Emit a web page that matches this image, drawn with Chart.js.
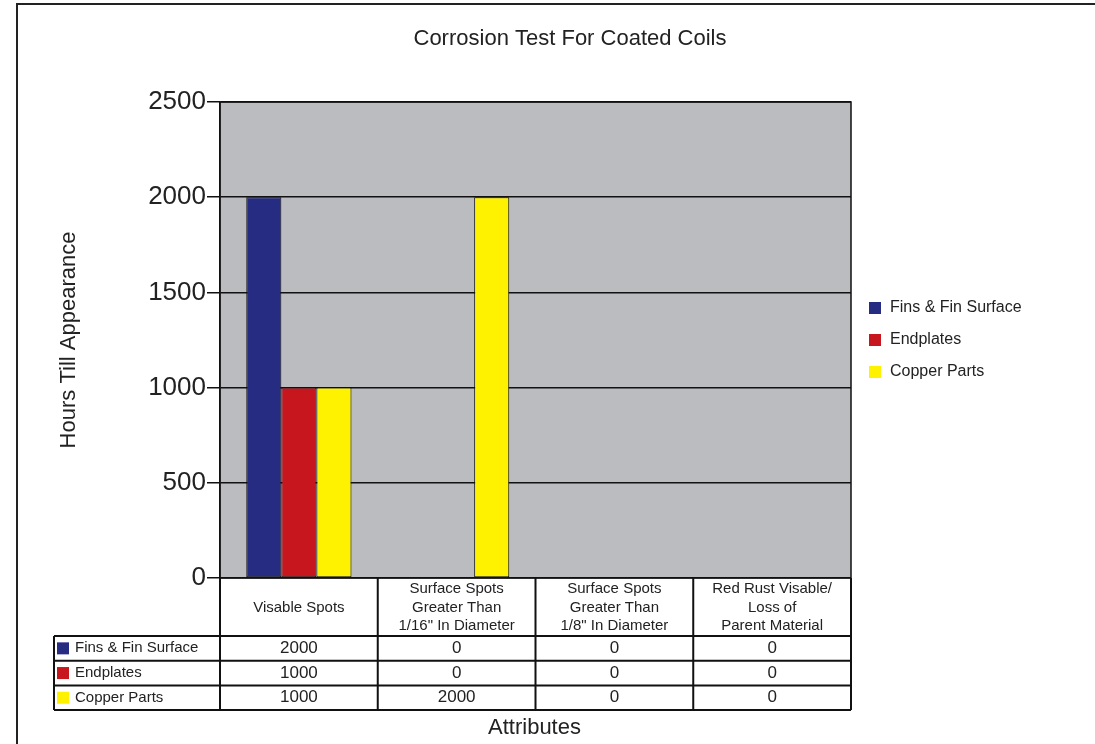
<!DOCTYPE html>
<html>
<head>
<meta charset="utf-8">
<script src="https://cdn.jsdelivr.net/npm/chart.js@4"></script>
<style>
  html, body { margin: 0; padding: 0; background: #fff; }
  #wrap { width: 1095px; height: 744px; }
</style>
</head>
<body>
<div id="wrap"><canvas id="corrosionChart" width="1095" height="744"></canvas></div>
<script>
// categories (table header labels) and series
const categories = [
    ['Visable Spots'],
    ['Surface Spots', 'Greater Than', '1/16" In Diameter'],
    ['Surface Spots', 'Greater Than', '1/8" In Diameter'],
    ['Red Rust Visable/', 'Loss of', 'Parent Material']
];
const seriesNames = ['Fins & Fin Surface', 'Endplates', 'Copper Parts'];
const finsValues = [2000, 0, 0, 0];
const endplatesValues = [1000, 0, 0, 0];
const copperValues = [1000, 2000, 0, 0];
const yTicks = [0, 500, 1000, 1500, 2000, 2500];

const FONT = '"Liberation Sans", Arial, sans-serif';
const colors = ['#262c82', '#c8161e', '#fff200'];

// frame, gray plot background, border, title, legend and the data table
const tablePlugin = {
    id: 'tablePlugin',
    beforeDraw(chart) {
        const ctx = chart.ctx;
        const a = chart.chartArea;
        ctx.save();
        ctx.fillStyle = '#fff';
        ctx.fillRect(0, 0, chart.width, chart.height);
        ctx.fillStyle = '#bbbcbf';
        ctx.fillRect(a.left, a.top, a.right - a.left, a.bottom - a.top);
        ctx.restore();
    },
    afterDraw(chart) {
        const ctx = chart.ctx;
        const a = chart.chartArea;
        const xs = chart.scales.x;
        ctx.save();

        // outer frame
        ctx.strokeStyle = '#222';
        ctx.lineWidth = 2;
        ctx.beginPath();
        ctx.moveTo(17, chart.height);
        ctx.lineTo(17, 4);
        ctx.lineTo(chart.width, 4);
        ctx.stroke();

        // plot border
        ctx.strokeStyle = '#111';
        ctx.lineWidth = 1.5;
        ctx.strokeRect(a.left, a.top, a.right - a.left, a.bottom - a.top);

        // title
        ctx.fillStyle = '#222';
        ctx.font = '22px ' + FONT;
        ctx.textAlign = 'center';
        ctx.textBaseline = 'middle';
        ctx.fillText('Corrosion Test For Coated Coils', 570, 39);

        // legend on the right
        ctx.font = '16px ' + FONT;
        ctx.textAlign = 'left';
        chart.data.datasets.forEach((ds, i) => {
            const y = 308 + i * 32;
            ctx.fillStyle = ds.backgroundColor;
            ctx.fillRect(869, y - 6, 12, 12);
            ctx.fillStyle = '#222';
            ctx.fillText(ds.label, 890, y);
        });

        // data table
        const headerBottom = 636;
        const rowH = 24.7;
        const tableLeft = 54;
        const bounds = [a.left];
        for (let i = 0; i < categories.length - 1; i++) {
            bounds.push((xs.getPixelForValue(i) + xs.getPixelForValue(i + 1)) / 2);
        }
        bounds.push(a.right);

        ctx.strokeStyle = '#111';
        ctx.lineWidth = 2;
        ctx.beginPath();
        bounds.forEach(x => {
            ctx.moveTo(x, a.bottom);
            ctx.lineTo(x, headerBottom + rowH * 3);
        });
        ctx.moveTo(tableLeft, headerBottom);
        ctx.lineTo(tableLeft, headerBottom + rowH * 3);
        for (let r = 0; r <= 3; r++) {
            const y = headerBottom + rowH * r;
            ctx.moveTo(tableLeft, y);
            ctx.lineTo(a.right, y);
        }
        ctx.stroke();

        // header labels
        ctx.fillStyle = '#222';
        ctx.textAlign = 'center';
        ctx.font = '15px ' + FONT;
        const headerMid = (a.bottom + headerBottom) / 2 + 0.5;
        categories.forEach((lines, i) => {
            const cx = xs.getPixelForValue(i);
            const lh = 18.5;
            const y0 = headerMid - (lines.length - 1) * lh / 2;
            lines.forEach((t, k) => ctx.fillText(t, cx, y0 + k * lh));
        });

        // rows
        chart.data.datasets.forEach((ds, r) => {
            const cy = headerBottom + rowH * r + rowH / 2;
            ctx.fillStyle = ds.backgroundColor;
            ctx.fillRect(57, cy - 6, 12, 12);
            ctx.fillStyle = '#222';
            ctx.textAlign = 'left';
            ctx.font = '15px ' + FONT;
            ctx.fillText(ds.label, 75, cy);
            ctx.textAlign = 'center';
            ctx.font = '17px ' + FONT;
            ds.data.forEach((v, i) => ctx.fillText(String(v), xs.getPixelForValue(i), cy));
        });

        // x axis title
        ctx.font = '22px ' + FONT;
        ctx.fillText('Attributes', (a.left + a.right) / 2 - 1, 728);
        ctx.restore();
    }
};

const ctx = document.getElementById('corrosionChart').getContext('2d');
new Chart(ctx, {
    type: 'bar',
    data: {
        labels: categories.map(c => c.join(' ')),
        datasets: [
            { label: seriesNames[0], data: finsValues, backgroundColor: colors[0] },
            { label: seriesNames[1], data: endplatesValues, backgroundColor: colors[1] },
            { label: seriesNames[2], data: copperValues, backgroundColor: colors[2] }
        ].map(ds => Object.assign(ds, { borderColor: '#111', borderWidth: 1, borderSkipped: false }))
    },
    options: {
        responsive: false,
        animation: false,
        layout: { padding: { left: 52, right: 244, top: 102, bottom: 166 } },
        datasets: { bar: { categoryPercentage: 0.667, barPercentage: 1 } },
        plugins: {
            legend: { display: false },
            tooltip: { enabled: false },
            title: { display: false }
        },
        scales: {
            x: {
                ticks: { display: false },
                grid: { display: false },
                border: { display: false },
                afterFit(scale) { scale.height = 0; }
            },
            y: {
                min: 0,
                max: 2500,
                afterBuildTicks(scale) { scale.ticks = yTicks.map(v => ({ value: v })); },
                afterFit(scale) { scale.width = 220 - 52; },
                ticks: {
                    color: '#222',
                    padding: 1,
                    font: { family: FONT, size: 26 },
                    callback: v => String(v)
                },
                grid: { color: '#111', lineWidth: 1.5, tickLength: 13, tickColor: '#111' },
                border: { color: '#111', width: 1.5 },
                title: {
                    display: true,
                    text: 'Hours Till Appearance',
                    color: '#222',
                    font: { family: FONT, size: 22 },
                    padding: { top: 4, bottom: 0 }
                }
            }
        }
    },
    plugins: [tablePlugin]
});
</script>
</body>
</html>
